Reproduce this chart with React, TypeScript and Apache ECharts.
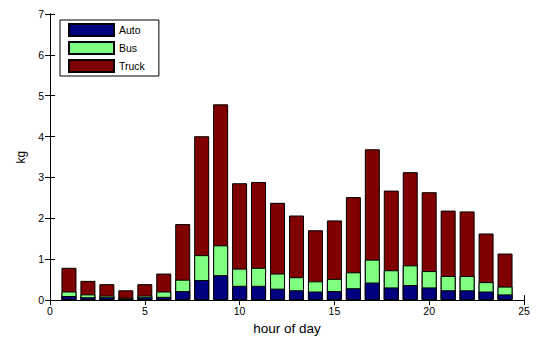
import React, { useEffect, useRef } from "react";
import * as echarts from "echarts";

const hours = [1, 2, 3, 4, 5, 6, 7, 8, 9, 10, 11, 12, 13, 14, 15, 16, 17, 18, 19, 20, 21, 22, 23, 24];
const autoVals = [0.1, 0.07, 0.07, 0.04, 0.07, 0.08, 0.22, 0.49, 0.61, 0.35, 0.35, 0.28, 0.24, 0.21, 0.22, 0.29, 0.43, 0.31, 0.37, 0.31, 0.24, 0.24, 0.21, 0.14];
const busVals = [0.11, 0.07, 0.04, 0.02, 0.04, 0.13, 0.28, 0.61, 0.73, 0.42, 0.44, 0.37, 0.32, 0.25, 0.3, 0.39, 0.56, 0.42, 0.48, 0.4, 0.35, 0.35, 0.23, 0.19];
const truckVals = [0.58, 0.33, 0.28, 0.18, 0.28, 0.44, 1.36, 2.91, 3.45, 2.09, 2.1, 1.73, 1.51, 1.25, 1.43, 1.84, 2.7, 1.95, 2.28, 1.93, 1.6, 1.58, 1.19, 0.81];
const seriesNames = ["Auto", "Bus", "Truck"];
const seriesColors = ["#000080", "#80ff80", "#800000"];
const xTicks = [0, 5, 10, 15, 20, 25];
const yTicks = [0, 1, 2, 3, 4, 5, 6, 7];

export default function App() {
  const ref = useRef<HTMLDivElement>(null);
  useEffect(() => {
    if (!ref.current) return;
    const chart = echarts.init(ref.current, null, { renderer: "svg" });
    const font = "'Liberation Sans', Arial, sans-serif";
    const all = [autoVals, busVals, truckVals];
    // cumulative tops of each stacked segment, drawn back to front
    const tops = all.map((_, i) =>
      hours.map((_h, j) => all.slice(0, i + 1).reduce((s, arr) => s + arr[j], 0))
    );
    const axisCommon = {
      axisLine: { show: true, lineStyle: { color: "#000", width: 1 } },
      axisTick: { show: true, inside: true, length: 5, lineStyle: { color: "#000" } },
      splitLine: { show: false },
    };
    const order = [2, 1, 0];
    chart.setOption({
      animation: false,
      backgroundColor: "#fff",
      grid: { left: 50, right: 13, top: 14, bottom: 32, containLabel: false },
      legend: {
        orient: "vertical",
        left: 60,
        top: 20,
        padding: [3, 14, 3, 8],
        itemWidth: 45,
        itemHeight: 12,
        itemGap: 4,
        borderColor: "#000",
        borderWidth: 1,
        backgroundColor: "#fff",
        icon: "rect",
        textStyle: { fontFamily: font, fontSize: 10.5, color: "#000" },
        data: seriesNames,
      },
      xAxis: [
        {
          type: "value",
          min: xTicks[0],
          max: xTicks[xTicks.length - 1],
          interval: 5,
          name: "hour of day",
          nameLocation: "middle",
          nameGap: 18,
          nameTextStyle: { fontFamily: font, fontSize: 13.5, color: "#000" },
          axisLabel: { margin: 5, fontFamily: font, fontSize: 10.5, color: "#000" },
          ...axisCommon,
        },
        {
          type: "value",
          position: "top",
          min: xTicks[0],
          max: xTicks[xTicks.length - 1],
          interval: 5,
          axisLabel: { show: false },
          ...axisCommon,
        },
      ],
      yAxis: [
        {
          type: "value",
          min: yTicks[0],
          max: yTicks[yTicks.length - 1],
          interval: 1,
          name: "kg",
          nameLocation: "middle",
          nameGap: 21,
          nameTextStyle: { fontFamily: font, fontSize: 12, color: "#000" },
          axisLabel: { margin: 6, fontFamily: font, fontSize: 10.5, color: "#000" },
          ...axisCommon,
        },
        {
          type: "value",
          position: "right",
          min: yTicks[0],
          max: yTicks[yTicks.length - 1],
          interval: 1,
          axisLabel: { show: false },
          ...axisCommon,
        },
      ],
      series: order.map((i, k) => ({
        name: seriesNames[i],
        type: "bar",
        barWidth: 15,
        barGap: "-100%",
        z: 2 + k,
        xAxisIndex: 0,
        yAxisIndex: 0,
        itemStyle: { color: seriesColors[i], borderColor: "#000", borderWidth: 1 },
        data: hours.map((h, j) => [h, tops[i][j]]),
      })),
    });
    return () => chart.dispose();
  }, []);
  return (
    <div
      ref={ref}
      style={{ width: 537, height: 340, position: "fixed", left: 0, top: 0 }}
    />
  );
}
